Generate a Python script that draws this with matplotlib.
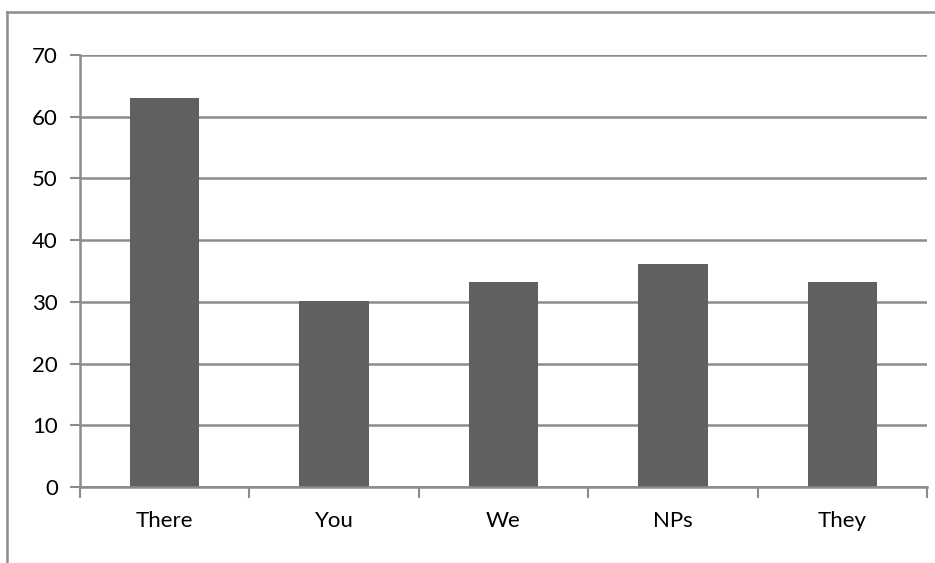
import matplotlib
matplotlib.use("Agg")
import matplotlib.pyplot as plt
from matplotlib.lines import Line2D
import numpy as np

categories = ["There", "You", "We", "NPs", "They"]
values = [63.0, 30.2, 33.2, 36.1, 33.2]
y_ticks = [0, 10, 20, 30, 40, 50, 60, 70]

W, H = 935, 563
fig = plt.figure(figsize=(W / 100, H / 100), dpi=100)
plt.rcParams["font.family"] = ["Lato", "DejaVu Sans"]

ax = fig.add_axes([80 / W, (H - 487) / H, 847 / W, 432 / H])

x = np.arange(len(categories))
ax.bar(x, values, width=0.41, color="#606060", zorder=3)

ax.set_xlim(-0.5, len(categories) - 0.5)
ax.set_ylim(0, 70)
ax.set_yticks(y_ticks)
ax.yaxis.grid(True, color="#8c8c8c", linewidth=1.8, zorder=1)

# category boundaries carry the tick marks, centres carry the labels
ax.set_xticks(np.arange(len(categories) + 1) - 0.5)
ax.set_xticklabels([])
ax.set_xticks(x, minor=True)
ax.set_xticklabels(categories, minor=True, fontsize=16)
ax.tick_params(axis="x", which="major", length=8, width=1.5, color="#8c8c8c", direction="out")
ax.tick_params(axis="x", which="minor", length=0, pad=17)
ax.tick_params(axis="y", length=7, width=1.5, color="#8c8c8c", labelsize=16, pad=9)

for side in ("top", "right"):
    ax.spines[side].set_visible(False)
for side in ("left", "bottom"):
    ax.spines[side].set_color("#8c8c8c")
    ax.spines[side].set_linewidth(1.8)
ax.spines["bottom"].set_zorder(4)

# outer chart frame (top and left edges)
fx, fy = 7 / W, (H - 12) / H
fig.add_artist(Line2D([fx, 1.0], [fy, fy], transform=fig.transFigure, color="#8c8c8c", linewidth=1.8))
fig.add_artist(Line2D([fx, fx], [0.0, fy], transform=fig.transFigure, color="#8c8c8c", linewidth=1.8))

fig.savefig("out.png", dpi=100)
